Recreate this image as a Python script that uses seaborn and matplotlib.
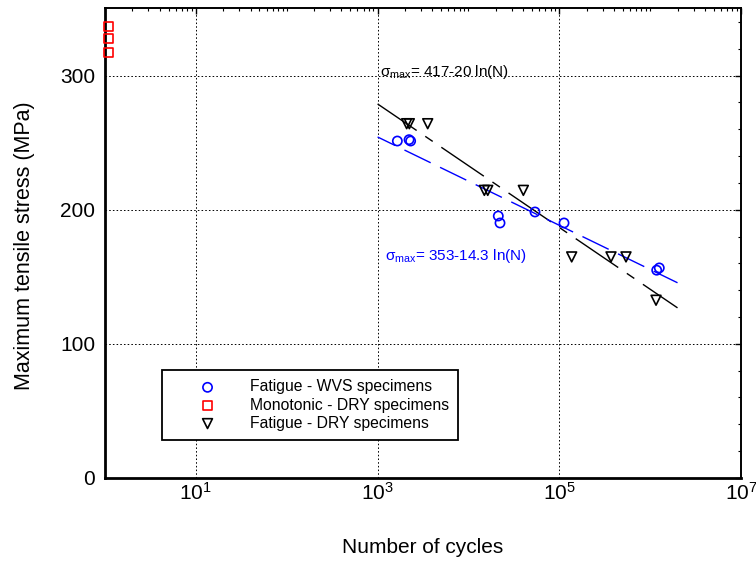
"""
S-N data: maximum tensile stress vs number of cycles
WVS / DRY fatigue specimens + monotonic DRY tests, with log fits
"""

import numpy as np
import matplotlib
matplotlib.use('Agg')
import matplotlib.pyplot as plt
import matplotlib.ticker as mticker
import seaborn as sns

# ==================== DATA ====================
# Fatigue - WVS specimens (circles)
wvs_cycles = [1650, 2220, 2310, 21300, 22250, 54000, 112700, 1.18e6, 1.26e6]
wvs_stress = [251.2, 252.2, 251.2, 195.3, 190.1, 198.3, 190.1, 154.9, 156.6]

# Monotonic - DRY specimens (squares, plotted at N ~ 1)
mono_cycles = [1.09, 1.09, 1.09]
mono_stress = [336.8, 327.9, 317.0]

# Fatigue - DRY specimens (down triangles)
dry_cycles = [2090, 2235, 3560, 14960, 16300, 40200, 136800, 370600, 542000, 1.16e6]
dry_stress = [264.1, 264.1, 264.1, 214.4, 214.4, 214.4, 164.8, 164.8, 164.8, 132.5]

# Fits: sigma_max = A - B ln(N)
fit_range = [1e3, 2e6]
dry_fit_A, dry_fit_B = 417.0, 20.0
wvs_fit_A, wvs_fit_B = 353.0, 14.3

x_ticks = [1e1, 1e3, 1e5, 1e7]
y_ticks = [0, 100, 200, 300]

# ==================== STYLE ====================
sns.set_style('white')
plt.rcParams['font.family'] = ['Liberation Sans', 'DejaVu Sans']
plt.rcParams['mathtext.fontset'] = 'custom'
plt.rcParams['mathtext.rm'] = 'Liberation Sans'
plt.rcParams['mathtext.it'] = 'Liberation Sans:italic'
plt.rcParams['mathtext.bf'] = 'Liberation Sans:bold'
plt.rcParams['mathtext.default'] = 'regular'
plt.rcParams['text.color'] = 'black'
plt.rcParams['axes.labelcolor'] = 'black'
plt.rcParams['xtick.color'] = 'black'
plt.rcParams['ytick.color'] = 'black'

fig = plt.figure(figsize=(7.56, 5.62), dpi=100)
ax = fig.add_axes([0.1389, 0.1495, 0.8413, 0.8354])

# ==================== FIT LINES ====================
fit_n = np.array(fit_range)
ax.plot(fit_n, dry_fit_A - dry_fit_B * np.log(fit_n), color='black', lw=1.0,
        linestyle=(3, (37, 7.5, 6.5, 7.5)), zorder=2)
ax.plot(fit_n, wvs_fit_A - wvs_fit_B * np.log(fit_n), color='blue', lw=1.0,
        linestyle=(7, (21, 7.5)), zorder=2)

# ==================== MARKERS ====================
sns.scatterplot(x=wvs_cycles, y=wvs_stress, marker='o', s=44, facecolor='none',
                edgecolor='blue', linewidth=1.2, label='Fatigue - WVS specimens',
                ax=ax, zorder=3)
sns.scatterplot(x=mono_cycles, y=mono_stress, marker='s', s=40, facecolor='none',
                edgecolor='red', linewidth=1.2, label='Monotonic - DRY specimens',
                ax=ax, zorder=3, clip_on=False)
sns.scatterplot(x=dry_cycles, y=dry_stress, marker='v', s=50, facecolor='none',
                edgecolor='black', linewidth=1.2, label='Fatigue - DRY specimens',
                ax=ax, zorder=3)

# ==================== AXES ====================
ax.set_xscale('log')
ax.set_xlim(1, 1e7)
ax.set_ylim(0, 350)

ax.xaxis.set_major_locator(mticker.FixedLocator(x_ticks))
ax.xaxis.set_major_formatter(mticker.LogFormatterSciNotation())
minor_x = [m * 10.0 ** d for d in range(0, 7) for m in range(1, 10)]
minor_x = [v for v in minor_x if v not in x_ticks and 1 < v < 1e7]
ax.xaxis.set_minor_locator(mticker.FixedLocator(minor_x))
ax.xaxis.set_minor_formatter(mticker.NullFormatter())

ax.yaxis.set_major_locator(mticker.FixedLocator(y_ticks))
ax.yaxis.set_minor_locator(mticker.MultipleLocator(20))

ax.tick_params(which='both', direction='in', top=True, right=True,
               colors='black', labelcolor='black')
ax.tick_params(which='major', length=4, width=1.0)
ax.tick_params(which='minor', length=2.5, width=0.8)
ax.tick_params(axis='x', which='major', labelsize=15, pad=3)
ax.tick_params(axis='y', which='major', labelsize=15, pad=7)

for side in ['left', 'bottom']:
    ax.spines[side].set_linewidth(2.0)
for side in ['top', 'right']:
    ax.spines[side].set_linewidth(1.4)
for sp in ax.spines.values():
    sp.set_color('black')

ax.grid(True, which='major', color='black', linestyle=(0, (1.6, 2.2)), linewidth=0.7)
ax.set_axisbelow(True)

ax.set_xlabel('Number of cycles', fontsize=15, color='black')
ax.set_ylabel('Maximum tensile stress (MPa)', fontsize=15.5, color='black')
ax.xaxis.label.set_va('center')
ax.yaxis.label.set_va('center')
ax.xaxis.set_label_coords(0.5, -0.149)
ax.yaxis.set_label_coords(-0.1258, 0.494)

# ==================== ANNOTATIONS ====================
ax.text(1063, 300, r'$\mathregular{\sigma_{max}}$= 417-20 ln(N)', color='black',
        fontsize=11, ha='left', va='baseline')
ax.text(1207, 162.3, r'$\mathregular{\sigma_{max}}$= 353-14.3 ln(N)', color='blue',
        fontsize=11, ha='left', va='baseline')

# ==================== LEGEND ====================
leg = ax.legend(loc='upper left', bbox_to_anchor=(0.2143, 0.3416),
                bbox_transform=fig.transFigure, fontsize=11.3, frameon=True,
                fancybox=False, framealpha=1, edgecolor='black',
                borderpad=0.6, handlelength=4.6, handletextpad=0.4,
                labelspacing=0.2, scatterpoints=1, borderaxespad=0)
leg.get_frame().set_linewidth(1.3)
for t in leg.get_texts():
    t.set_color('black')

plt.savefig('out.png', dpi=100)
plt.close()
